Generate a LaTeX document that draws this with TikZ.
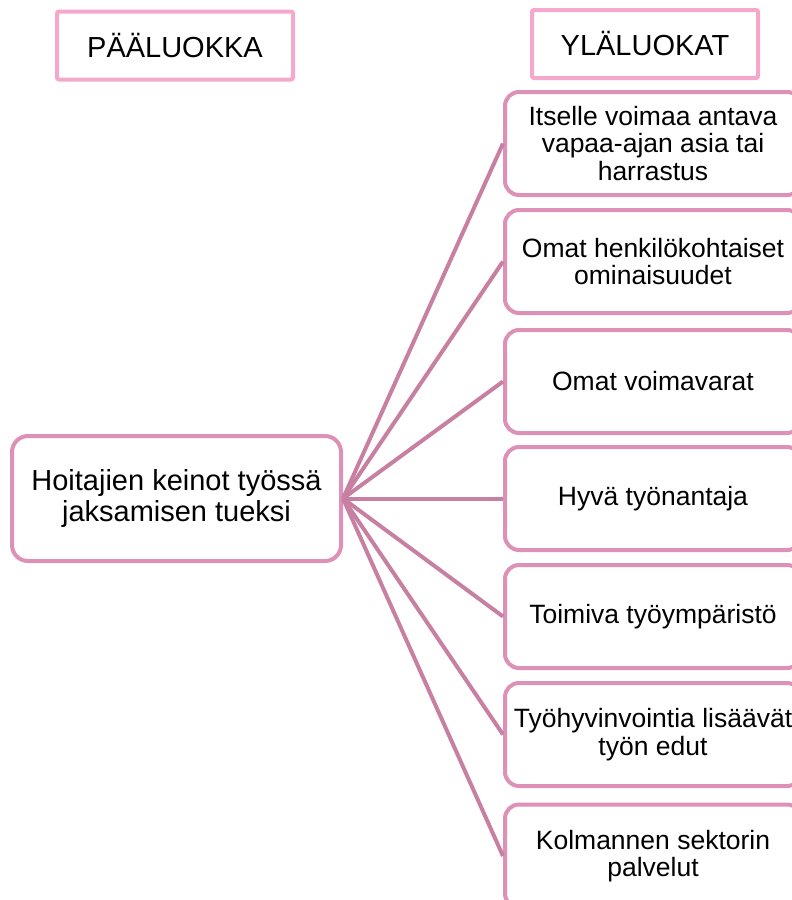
\documentclass[tikz,border=0pt]{standalone}
\usepackage{fontspec}
\setmainfont{Liberation Sans}
\definecolor{pinkline}{RGB}{222,145,182}
\definecolor{pinkhead}{RGB}{245,168,203}
\definecolor{mauve}{RGB}{200,128,162}

\begin{document}
\begin{tikzpicture}[x=0.5pt, y=-0.5pt, head/.style={draw=pinkhead, line width=2pt, rounded corners=1pt, minimum width=#1, minimum height=34pt, font=\fontsize{14.5}{15}\selectfont}, main/.style={draw=pinkline, line width=2pt, rounded corners=8pt, minimum width=164.5pt, minimum height=62.5pt, align=center, font=\fontsize{14.5}{15.1}\selectfont}, sub/.style={draw=pinkline, line width=2pt, rounded corners=7pt, minimum width=148pt, minimum height=51.5pt, inner sep=1pt, fill=white, align=center, font=\fontsize{13.25}{13.8}\selectfont}, link/.style={draw=mauve, line width=2pt}]
	\useasboundingbox (0,0) rectangle (792,900);
	\clip (0,0) rectangle (792,900);
	\node[head=118pt] (paa) at (175,45.5) {PÄÄLUOKKA};
	\node[head=113pt] (yla) at (645,44) {YLÄLUOKAT};
	\node[main] (hub) at (176.5,498.5) {Hoitajien keinot työssä\\ jaksamisen tueksi};
	\foreach \n/\y/\t in {s1/143.5/{Itselle voimaa antava\\ vapaa-ajan asia tai\\ harrastus}, s2/261.5/{Omat henkilökohtaiset\\ ominaisuudet}, s3/381.5/{Omat voimavarat}, s4/498.5/{Hyvä työnantaja}, s5/616.5/{Toimiva työympäristö}, s6/734.5/{Työhyvinvointia lisäävät\\ työn edut}, s7/856/{Kolmannen sektorin\\ palvelut}} {\node[sub] (\n) at (653,\y) {\t};}
	\foreach \n in {s1,s2,s3,s4,s5,s6,s7} {\draw[link] (hub.east) -- (\n.west);}
\end{tikzpicture}
\end{document}
